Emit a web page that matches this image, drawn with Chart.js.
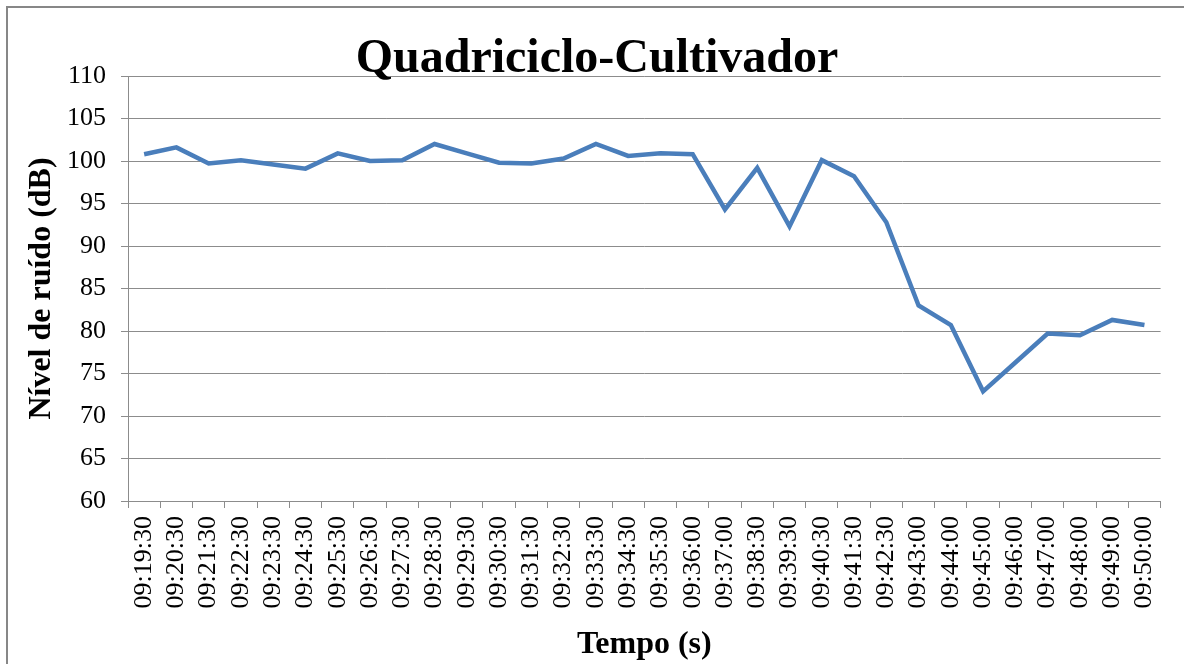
<!DOCTYPE html>
<html>
<head>
<meta charset="utf-8">
<script src="https://cdn.jsdelivr.net/npm/chart.js@4/dist/chart.umd.min.js"></script>
<style>
  html, body { margin: 0; padding: 0; background: #ffffff; overflow: hidden; }
  #wrap { position: relative; width: 1184px; height: 664px; }
</style>
</head>
<body>
<div id="wrap"><canvas id="c" width="1184" height="664"></canvas></div>
<script>
const chartTitle = 'Quadriciclo-Cultivador';
const xAxisTitle = 'Tempo (s)';
const yAxisTitle = 'Nível de ruído (dB)';
const categories = [
  '09:19:30','09:20:30','09:21:30','09:22:30','09:23:30','09:24:30','09:25:30','09:26:30',
  '09:27:30','09:28:30','09:29:30','09:30:30','09:31:30','09:32:30','09:33:30','09:34:30',
  '09:35:30','09:36:00','09:37:00','09:38:30','09:39:30','09:40:30','09:41:30','09:42:30',
  '09:43:00','09:44:00','09:45:00','09:46:00','09:47:00','09:48:00','09:49:00','09:50:00'
];
const noiseValues = [
  100.8, 101.6, 99.7, 100.1, 99.6, 99.1, 100.9, 100.0,
  100.1, 102.0, 100.9, 99.8, 99.7, 100.3, 102.0, 100.6,
  100.9, 100.8, 94.3, 99.2, 92.3, 100.1, 98.2, 92.8,
  83.0, 80.7, 72.9, 76.3, 79.7, 79.5, 81.3, 80.7
];
const yMin = 60, yMax = 110, yStep = 5;

const SERIF = "'Liberation Serif', 'Times New Roman', serif";
const LINE_GREY = '#8c8c8c';

const framePlugin = {
  id: 'frameAndTitle',
  beforeDraw(chart) {
    const ctx = chart.ctx;
    ctx.save();
    ctx.fillStyle = '#ffffff';
    ctx.fillRect(0, 0, chart.width, chart.height);
    ctx.strokeStyle = '#878787';
    ctx.lineWidth = 2;
    ctx.beginPath();
    ctx.moveTo(7, chart.height + 5);
    ctx.lineTo(7, 7);
    ctx.lineTo(chart.width + 5, 7);
    ctx.stroke();
    ctx.restore();
  },
  afterDatasetsDraw(chart) {
    const ctx = chart.ctx;
    ctx.save();
    ctx.fillStyle = '#000000';
    ctx.font = 'bold 48px ' + SERIF;
    ctx.textAlign = 'center';
    ctx.textBaseline = 'alphabetic';
    ctx.fillText(chartTitle, 597, 72);
    ctx.restore();
  }
};

new Chart(document.getElementById('c'), {
  type: 'line',
  data: {
    labels: categories,
    datasets: [{
      data: noiseValues,
      borderColor: '#4a7ebb',
      backgroundColor: '#4a7ebb',
      borderWidth: 4.5,
      pointRadius: 0,
      pointHoverRadius: 0,
      tension: 0,
      fill: false,
      borderJoinStyle: 'miter'
    }]
  },
  options: {
    responsive: false,
    animation: false,
    devicePixelRatio: 1,
    layout: { padding: { top: 76, right: 22, left: 0, bottom: 0 } },
    plugins: {
      legend: { display: false },
      title: { display: false },
      tooltip: { enabled: false }
    },
    scales: {
      x: {
        type: 'category',
        offset: true,
        afterFit(s) { s.height = 163; },
        grid: {
          display: true,
          drawOnChartArea: false,
          drawTicks: true,
          tickLength: 7,
          offset: true,
          color: LINE_GREY,
          lineWidth: 1
        },
        border: { display: true, color: LINE_GREY, width: 1 },
        ticks: {
          autoSkip: false,
          minRotation: 90,
          maxRotation: 90,
          padding: 8,
          color: '#000000',
          font: { family: SERIF, size: 26 }
        },
        title: {
          display: true,
          text: xAxisTitle,
          color: '#000000',
          font: { family: SERIF, size: 32, weight: 'bold' },
          padding: { top: 0, bottom: 0 }
        }
      },
      y: {
        min: yMin,
        max: yMax,
        afterFit(s) { s.width = 128; },
        grid: {
          display: true,
          drawOnChartArea: true,
          drawTicks: true,
          tickLength: 7,
          color: LINE_GREY,
          lineWidth: 1
        },
        border: { display: true, color: LINE_GREY, width: 1 },
        ticks: {
          stepSize: yStep,
          padding: 15,
          color: '#000000',
          font: { family: SERIF, size: 26 }
        },
        title: {
          display: true,
          text: yAxisTitle,
          color: '#000000',
          font: { family: SERIF, size: 32, weight: 'bold' },
          padding: { top: 23, bottom: 0 }
        }
      }
    }
  },
  plugins: [framePlugin]
});
</script>
</body>
</html>
